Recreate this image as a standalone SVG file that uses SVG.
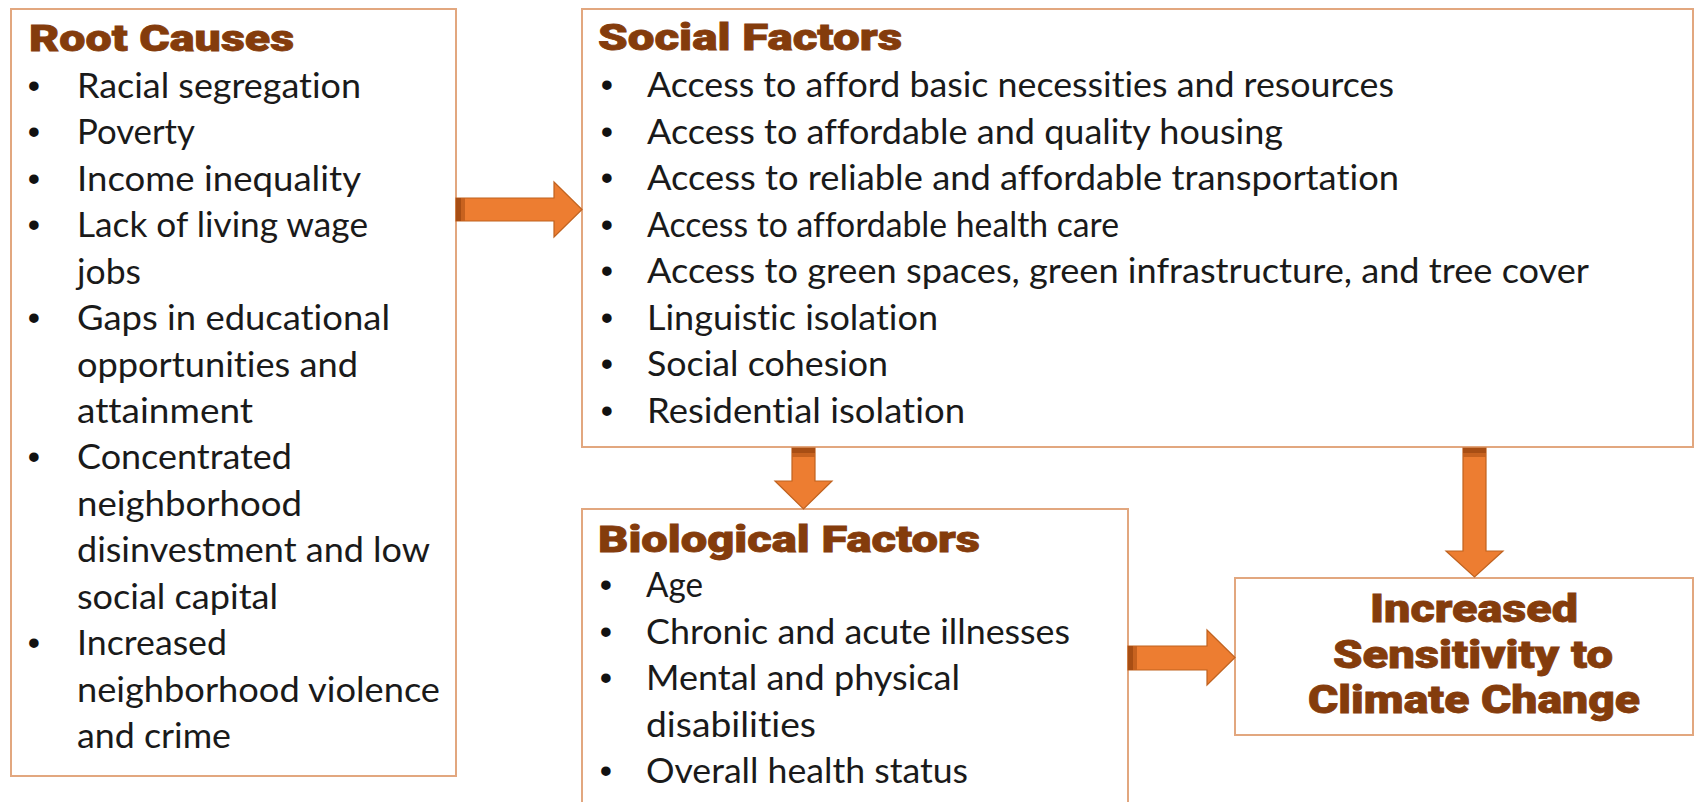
<svg xmlns="http://www.w3.org/2000/svg" width="1695" height="802" viewBox="0 0 1695 802">
<style>
.box{fill:#ffffff;stroke:#E2A77F;stroke-width:2}
.ttl{font-family:Roboto,"Liberation Sans",Arial,sans-serif;font-weight:900;font-size:36px;fill:#843C0C;stroke:#843C0C;stroke-width:0.8}
.big{font-family:Roboto,"Liberation Sans",Arial,sans-serif;font-weight:900;font-size:38px;fill:#843C0C;stroke:#843C0C;stroke-width:0.8;text-anchor:middle}
.t{font-family:Lato,"Liberation Sans",Arial,sans-serif;font-size:35px;fill:#1a1a1a;font-variant-ligatures:none;font-feature-settings:"liga" 0,"clig" 0}
.b{font-family:"Liberation Sans",Arial,sans-serif;font-size:35px;fill:#111;text-anchor:middle}
.arr{fill:#ED7D31;stroke:#C0621F;stroke-width:1.2}
.band1{fill:#A84E14}
.band2{fill:#C7621F}
</style>
<rect width="1695" height="802" fill="#ffffff"/>

<g id="root-causes">
<rect class="box" x="11" y="9" width="445" height="767"/>
<text class="ttl" x="29" y="51" textLength="265" lengthAdjust="spacingAndGlyphs">Root Causes</text>
<text class="b" x="34" y="98">•</text><text class="t" x="77" y="98" textLength="284" lengthAdjust="spacingAndGlyphs">Racial segregation</text>
<text class="b" x="34" y="144.4">•</text><text class="t" x="77" y="144.4" textLength="118" lengthAdjust="spacingAndGlyphs">Poverty</text>
<text class="b" x="34" y="190.9">•</text><text class="t" x="77" y="190.9" textLength="284" lengthAdjust="spacingAndGlyphs">Income inequality</text>
<text class="b" x="34" y="237.3">•</text><text class="t" x="77" y="237.3" textLength="291" lengthAdjust="spacingAndGlyphs">Lack of living wage</text>
<text class="t" x="77" y="283.7" textLength="64" lengthAdjust="spacingAndGlyphs">jobs</text>
<text class="b" x="34" y="330.1">•</text><text class="t" x="77" y="330.1" textLength="313" lengthAdjust="spacingAndGlyphs">Gaps in educational</text>
<text class="t" x="77" y="376.6" textLength="281" lengthAdjust="spacingAndGlyphs">opportunities and</text>
<text class="t" x="77" y="423" textLength="176" lengthAdjust="spacingAndGlyphs">attainment</text>
<text class="b" x="34" y="469.4">•</text><text class="t" x="77" y="469.4" textLength="215" lengthAdjust="spacingAndGlyphs">Concentrated</text>
<text class="t" x="77" y="515.9" textLength="225" lengthAdjust="spacingAndGlyphs">neighborhood</text>
<text class="t" x="77" y="562.3" textLength="353" lengthAdjust="spacingAndGlyphs">disinvestment and low</text>
<text class="t" x="77" y="608.7" textLength="201" lengthAdjust="spacingAndGlyphs">social capital</text>
<text class="b" x="34" y="655.1">•</text><text class="t" x="77" y="655.1" textLength="150" lengthAdjust="spacingAndGlyphs">Increased</text>
<text class="t" x="77" y="701.6" textLength="363" lengthAdjust="spacingAndGlyphs">neighborhood violence</text>
<text class="t" x="77" y="748" textLength="154" lengthAdjust="spacingAndGlyphs">and crime</text>
</g>

<g id="social-factors">
<rect class="box" x="582" y="9" width="1111" height="438"/>
<text class="ttl" x="598" y="50" textLength="304" lengthAdjust="spacingAndGlyphs">Social Factors</text>
<text class="b" x="607" y="97">•</text><text class="t" x="647" y="97" textLength="747" lengthAdjust="spacingAndGlyphs">Access to afford basic necessities and resources</text>
<text class="b" x="607" y="143.5">•</text><text class="t" x="647" y="143.5" textLength="636" lengthAdjust="spacingAndGlyphs">Access to affordable and quality housing</text>
<text class="b" x="607" y="190">•</text><text class="t" x="647" y="190" textLength="752" lengthAdjust="spacingAndGlyphs">Access to reliable and affordable transportation</text>
<text class="b" x="607" y="236.5">•</text><text class="t" x="647" y="236.5" textLength="472" lengthAdjust="spacingAndGlyphs">Access to affordable health care</text>
<text class="b" x="607" y="283">•</text><text class="t" x="647" y="283" textLength="942" lengthAdjust="spacingAndGlyphs">Access to green spaces, green infrastructure, and tree cover</text>
<text class="b" x="607" y="329.5">•</text><text class="t" x="647" y="329.5" textLength="291" lengthAdjust="spacingAndGlyphs">Linguistic isolation</text>
<text class="b" x="607" y="376">•</text><text class="t" x="647" y="376" textLength="241" lengthAdjust="spacingAndGlyphs">Social cohesion</text>
<text class="b" x="607" y="422.5">•</text><text class="t" x="647" y="422.5" textLength="318" lengthAdjust="spacingAndGlyphs">Residential isolation</text>
</g>

<g id="biological-factors">
<rect class="box" x="582" y="509" width="546" height="310"/>
<text class="ttl" x="598" y="552" textLength="382" lengthAdjust="spacingAndGlyphs">Biological Factors</text>
<text class="b" x="606" y="597">•</text><text class="t" x="646" y="597" textLength="57" lengthAdjust="spacingAndGlyphs">Age</text>
<text class="b" x="606" y="643.5">•</text><text class="t" x="646" y="643.5" textLength="424" lengthAdjust="spacingAndGlyphs">Chronic and acute illnesses</text>
<text class="b" x="606" y="690">•</text><text class="t" x="646" y="690" textLength="314" lengthAdjust="spacingAndGlyphs">Mental and physical</text>
<text class="t" x="646" y="736.5" textLength="170" lengthAdjust="spacingAndGlyphs">disabilities</text>
<text class="b" x="606" y="783">•</text><text class="t" x="646" y="783" textLength="322" lengthAdjust="spacingAndGlyphs">Overall health status</text>
</g>

<g id="increased-sensitivity">
<rect class="box" x="1235" y="578" width="458" height="157"/>
<text class="big" x="1474" y="622" textLength="208" lengthAdjust="spacingAndGlyphs">Increased</text>
<text class="big" x="1473" y="668" textLength="280" lengthAdjust="spacingAndGlyphs">Sensitivity to</text>
<text class="big" x="1474" y="713" textLength="332" lengthAdjust="spacingAndGlyphs">Climate Change</text>
</g>

<g id="connectors">
<g id="arrow-root-social">
<polygon class="arr" points="456,198 554,198 554,182 582,209.5 554,237 554,221 456,221"/>
<rect class="band1" x="456" y="198" width="5" height="23"/>
<rect class="band2" x="461" y="198" width="4" height="23"/>
</g>
<g id="arrow-social-bio">
<polygon class="arr" points="792,448 815,448 815,481 832,481 803.5,509 775,481 792,481"/>
<rect class="band1" x="792" y="448" width="23" height="5"/>
<rect class="band2" x="792" y="453" width="23" height="4"/>
</g>
<g id="arrow-social-increased">
<polygon class="arr" points="1463,448 1486,448 1486,551 1503,551 1474.5,577 1446,551 1463,551"/>
<rect class="band1" x="1463" y="448" width="23" height="5"/>
<rect class="band2" x="1463" y="453" width="23" height="4"/>
</g>
<g id="arrow-bio-increased">
<polygon class="arr" points="1128,646 1207,646 1207,630 1235,657.5 1207,685 1207,670 1128,670"/>
<rect class="band1" x="1128" y="646" width="5" height="24"/>
<rect class="band2" x="1133" y="646" width="4" height="24"/>
</g>
</g>
</svg>
